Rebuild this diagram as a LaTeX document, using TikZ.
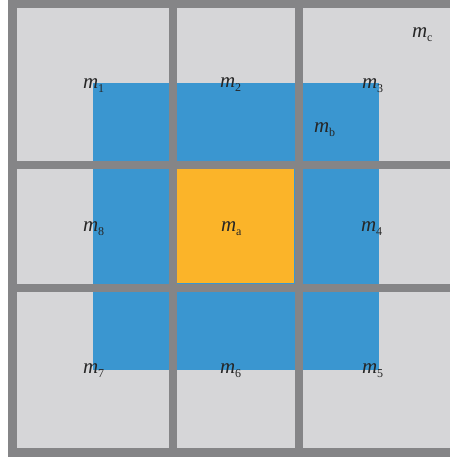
\documentclass[tikz,border=0pt]{standalone}
\usepackage{fontspec}
\setmainfont{Liberation Serif}
\definecolor{bgg}{RGB}{214,214,216}
\definecolor{lineg}{RGB}{133,133,135}
\definecolor{blu}{RGB}{58,150,208}
\definecolor{orng}{RGB}{251,180,41}
\newcommand{\mlab}[1]{{\fontsize{21}{21}\selectfont\itshape m}\raisebox{-4pt}{\fontsize{12}{12}\selectfont #1}}
\begin{document}
\begin{tikzpicture}[x=1pt,y=-1pt,
  lab/.style={anchor=base west,inner sep=0pt,outer sep=0pt,text=black!85}]
\useasboundingbox (0,0) rectangle (450,461);
\fill[white] (0,0) rectangle (450,461);
\fill[bgg] (8,0) rectangle (450,457);
\fill[blu] (93,83) rectangle (379,370);
\fill[orng] (177,169) rectangle (294,283);
% grid lines
\fill[lineg] (8,0) rectangle (17,457);
\fill[lineg] (8,0) rectangle (450,8);
\fill[lineg] (8,448) rectangle (450,457);
\fill[lineg] (169,0) rectangle (177,457);
\fill[lineg] (294.5,0) rectangle (302.5,457);
\fill[lineg] (8,161) rectangle (450,169);
\fill[lineg] (8,283.5) rectangle (450,291.5);
% labels
\node[lab] (m1) at (83,88) {\mlab{1}};
\node[lab] (m2) at (220,87) {\mlab{2}};
\node[lab] (m3) at (362,88) {\mlab{3}};
\node[lab] (mb) at (314,132) {\mlab{b}};
\node[lab] (mc) at (412,37) {\mlab{c}};
\node[lab] (ma) at (221,231) {\mlab{a}};
\node[lab] (m8) at (83,231) {\mlab{8}};
\node[lab] (m4) at (361,231) {\mlab{4}};
\node[lab] (m7) at (83,373) {\mlab{7}};
\node[lab] (m6) at (220,373) {\mlab{6}};
\node[lab] (m5) at (362,373) {\mlab{5}};
\end{tikzpicture}
\end{document}
